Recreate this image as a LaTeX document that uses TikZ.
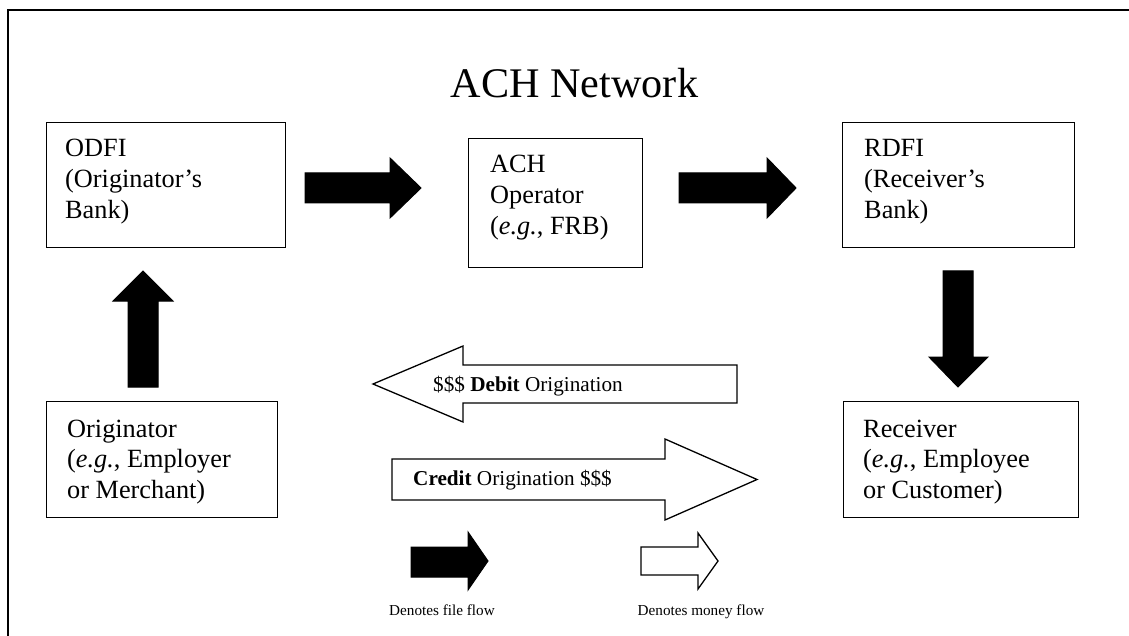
\documentclass[tikz,border=0pt]{standalone}
\usepackage{fontspec}
\setmainfont{Liberation Serif}
\begin{document}
\begin{tikzpicture}[x=1pt,y=-1pt,
  box/.style={draw, line width=1.3pt, inner sep=0pt, anchor=north west},
  lbl/.style={inner sep=0pt, anchor=base west, font=\fontsize{26.3}{30.8}\selectfont},
  flowlbl/.style={inner sep=0pt, anchor=base west, font=\fontsize{21.2}{24}\selectfont},
  keylbl/.style={inner sep=0pt, anchor=base, font=\fontsize{15.2}{18}\selectfont},
  filearrow/.style={fill=black, draw=black, line width=1pt, line join=miter},
  moneyarrow/.style={fill=white, draw=black, line width=1.3pt, line join=miter},
]
\useasboundingbox (0,0) rectangle (1129,636);
\clip (0,0) rectangle (1129,636);
\fill[white] (0,0) rectangle (1129,636);

% outer frame (runs off the page on the right and bottom)
\draw[line width=2pt] (8,660) -- (8,10) -- (1150,10);

% title
\node[inner sep=0pt, anchor=base, font=\fontsize{42.2}{48}\selectfont] (title) at (574.5,98) {ACH Network};

% parties
\node[box, minimum width=239pt, minimum height=125pt] (odfi) at (46,122) {};
\node[lbl] (odfitxt) at (65,157) {\vtop{\hbox{ODFI}\hbox{(Originator’s}\hbox{Bank)}}};

\node[box, minimum width=174pt, minimum height=129pt] (ach) at (468,138) {};
\node[lbl] (achtxt) at (490,173) {\vtop{\hbox{ACH}\hbox{Operator}\hbox{(\textit{e.g.}, FRB)}}};

\node[box, minimum width=232pt, minimum height=125pt] (rdfi) at (842,122) {};
\node[lbl] (rdfitxt) at (864,157) {\vtop{\hbox{RDFI}\hbox{(Receiver’s}\hbox{Bank)}}};

\node[box, minimum width=231pt, minimum height=116pt] (orig) at (46,401) {};
\node[lbl] (origtxt) at (67,437) {\vtop{\hbox{Originator}\hbox{(\textit{e.g.}, Employer}\hbox{or Merchant)}}};

\node[box, minimum width=235pt, minimum height=116pt] (recv) at (843,401) {};
\node[lbl] (recvtxt) at (863,437) {\vtop{\hbox{Receiver}\hbox{(\textit{e.g.}, Employee}\hbox{or Customer)}}};

% file flow arrows
\draw[filearrow] (305,173) -- (390,173) -- (390,158) -- (421,188) -- (390,218) -- (390,203) -- (305,203) -- cycle;
\draw[filearrow] (679,173) -- (767,173) -- (767,158) -- (796,188) -- (767,218) -- (767,203) -- (679,203) -- cycle;
\draw[filearrow] (128,387) -- (128,301) -- (113,301) -- (143,271) -- (173,301) -- (158,301) -- (158,387) -- cycle;
\draw[filearrow] (943,271) -- (943,357) -- (929,357) -- (958,387) -- (988,357) -- (973,357) -- (973,271) -- cycle;

% money flow arrows
\draw[moneyarrow] (737,365) -- (463,365) -- (463,346) -- (373,384) -- (463,422) -- (463,403) -- (737,403) -- cycle;
\node[flowlbl] (debit) at (433,391) {\$\$\$ \textbf{Debit} Origination};

\draw[moneyarrow] (392,459) -- (665,459) -- (665,439) -- (757,479.5) -- (665,520) -- (665,500) -- (392,500) -- cycle;
\node[flowlbl] (credit) at (413,485) {\textbf{Credit} Origination \$\$\$};

% key
\draw[filearrow] (411,547) -- (468,547) -- (468,532) -- (488,561) -- (468,590) -- (468,577) -- (411,577) -- cycle;
\node[keylbl] (filekey) at (442,615) {Denotes file flow};

\draw[moneyarrow] (641,547) -- (698,547) -- (698,533) -- (718,561) -- (698,589) -- (698,575) -- (641,575) -- cycle;
\node[keylbl] (moneykey) at (701,615) {Denotes money flow};
\end{tikzpicture}
\end{document}
